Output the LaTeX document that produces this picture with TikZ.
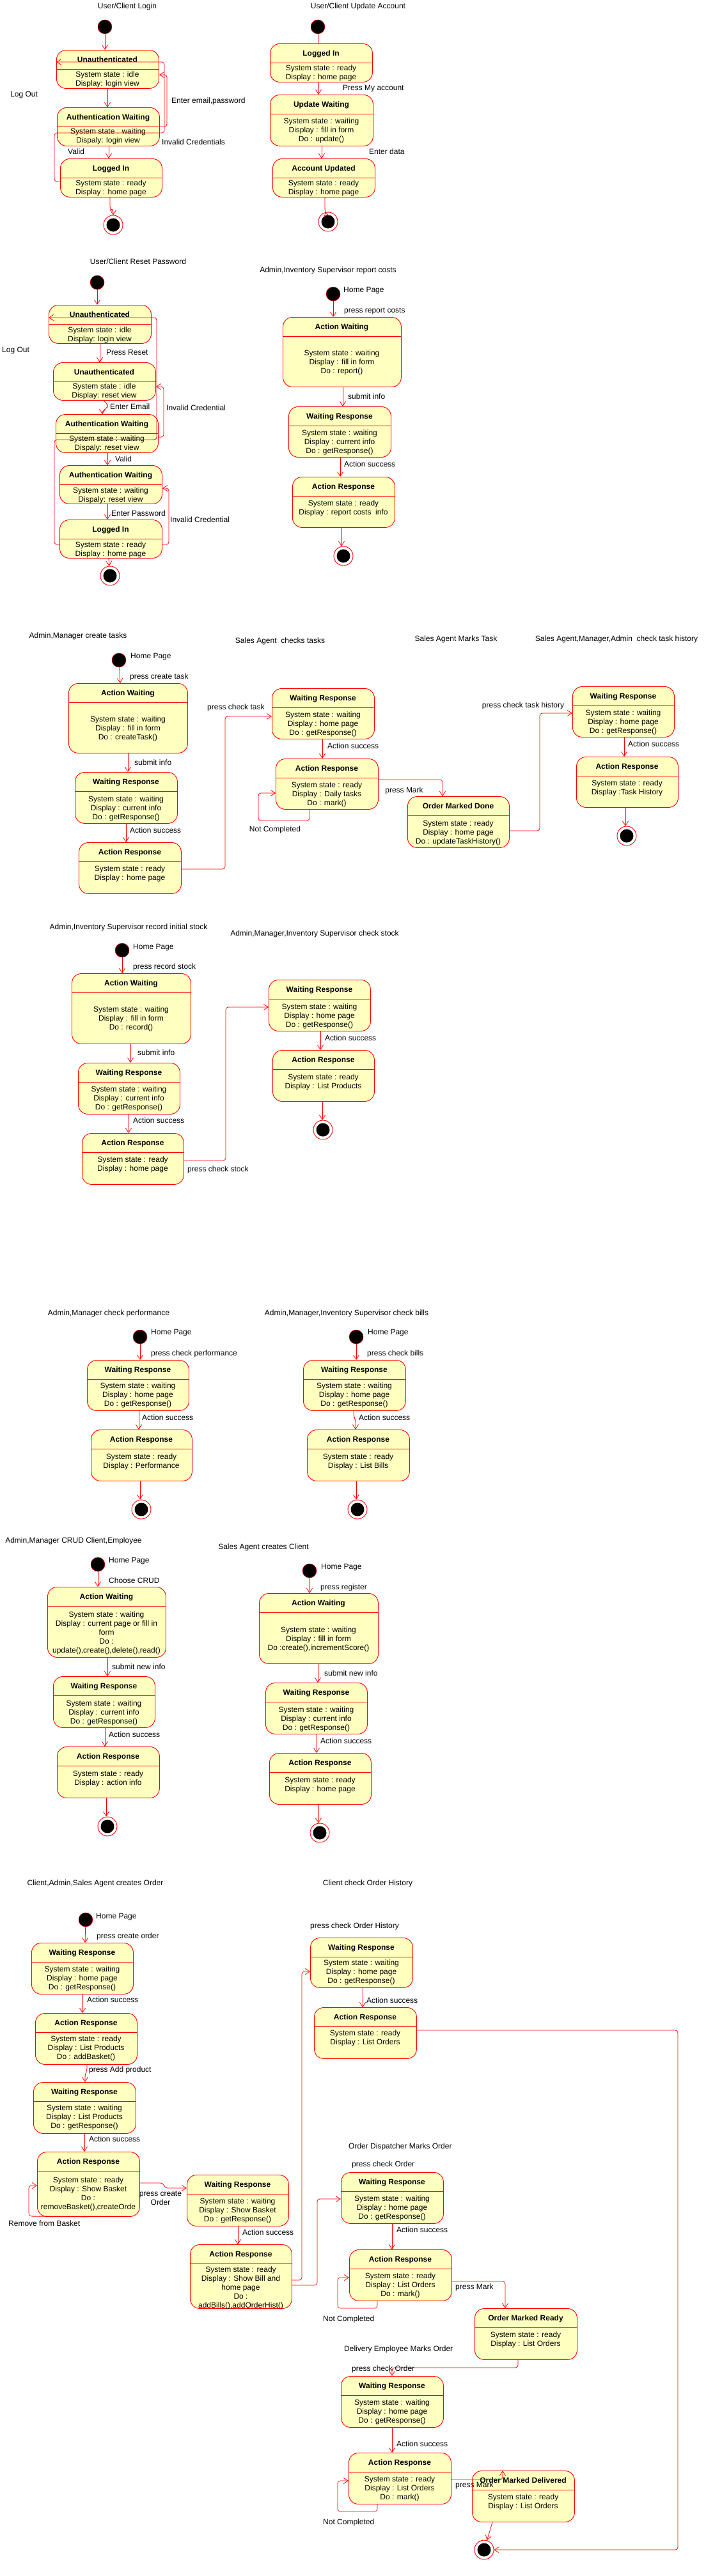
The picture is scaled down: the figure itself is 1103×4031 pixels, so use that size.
\documentclass[tikz,border=0pt]{standalone}
\usepackage{fontspec}
\setmainfont{Liberation Sans}
\usetikzlibrary{arrows.meta}

\definecolor{stateyellow}{HTML}{FFFFC0}
\definecolor{statered}{HTML}{FF0000}

\tikzset{
  statebox/.style={draw=statered, fill=stateyellow, rounded corners=15pt, inner sep=0pt, line width=0.9pt},
  sepline/.style={draw=statered, line width=0.9pt},
  titletext/.style={font=\fontsize{12}{14}\selectfont\bfseries, inner sep=0pt, anchor=base},
  bodytext/.style={font=\fontsize{12}{14}\selectfont, inner sep=0pt, anchor=base},
  tlabel/.style={font=\fontsize{12}{14}\selectfont, inner sep=0pt, anchor=base west},
  headline/.style={font=\fontsize{12}{14}\selectfont, inner sep=0pt, anchor=base},
  trans/.style={draw=statered, line width=0.8pt, rounded corners=4pt, -{Straight Barb[length=7pt,width=9pt]}},
  link/.style={draw=statered, line width=0.8pt},
  startstate/.style={circle, fill=black, draw=statered, line width=0.5pt, inner sep=0pt, minimum size=22pt},
  endstate/.style={circle, draw=statered, fill=white, line width=0.9pt, inner sep=0pt, minimum size=30pt,
    path picture={\fill[black] (path picture bounding box.center) circle (10.5pt);}},
}

% #1 name, #2,#3 top left, #4,#5 bottom right, #6 y of first body line, #7 title, #8 body
\newcommand{\ustate}[8]{%
  \node[statebox, anchor=north west, minimum width={#4-#2}, minimum height={#5-#3}] (#1) at (#2,#3) {};
  \draw[sepline] (#2,{#3+30}) -- (#4,{#3+30});
  \node[titletext] (#1-t) at ({(#2+#4)/2},{#3+19.5}) {#7};
  \node[bodytext] (#1-b) at ({(#2+#4)/2},{#6+4}) {\begin{tabular}[t]{@{}c@{}}#8\end{tabular}};
}

\begin{document}
\begin{tikzpicture}[x=1pt, y=-1pt]
  \useasboundingbox[fill=white] (0,0) rectangle (1103,4031);

  % User/Client Login
  \node[headline] (hLogin) at (199,13) {User/Client Login};
  \node[startstate] (loginStart) at (164,42) {};
  \ustate{loginUnauth}{88}{78}{248}{138}{116}{Unauthenticated}{System state : idle\\Display: login view}
  \ustate{loginWait}{89}{168}{249}{228}{205}{Authentication Waiting}{System state : waiting\\Dispaly: login view}
  \ustate{loginIn}{94}{248}{253}{308}{286}{Logged In}{System state : ready\\Display : home page}
  \node[endstate] (loginEnd) at (177,352) {};
  \draw[trans] (loginStart) -- (loginUnauth.north -| 164,0);
  \draw[trans] (loginUnauth.south -| 168,0) -- (loginWait.north -| 168,0);
  \draw[trans] (loginWait.south -| 170,0) -- (loginIn.north -| 170,0);
  \draw[trans] (loginIn.south -| 172,0) |- (177,328) -- (loginEnd.north);
  \draw[trans] (loginIn.west |- 0,284) -- (85,284) -- (85,208) -- (257,208) -- (257,97) -- (loginUnauth.west |- 0,97);
  \draw[trans] (loginWait.east |- 0,198) -- (261,198) -- (261,117) -- (loginUnauth.east |- 0,117);
  \node[tlabel] (loginL1) at (16,151) {Log Out};
  \node[tlabel] (loginL2) at (268,161) {Enter email,password};
  \node[tlabel] (loginL3) at (253,226) {Invalid Credentials};
  \node[tlabel] (loginL4) at (106,241) {Valid};

  % User/Client Update Account
  \node[headline] (hUpdate) at (560,13) {User/Client Update Account};
  \node[startstate] (updStart) at (497,42) {};
  \ustate{updIn}{422}{68}{582}{128}{106}{Logged In}{System state : ready\\Display : home page}
  \ustate{updWait}{422}{148}{583}{228}{189}{Update Waiting}{System state : waiting\\Display : fill in form\\Do : update()}
  \ustate{updDone}{426}{248}{586}{308}{286}{Account Updated}{System state : ready\\Display : home page}
  \node[endstate] (updEnd) at (513,347) {};
  \draw[link] (updStart) -- (updIn.north -| 497,0);
  \draw[trans] (updIn.south -| 498,0) -- (updWait.north -| 498,0);
  \draw[trans] (updWait.south -| 503,0) -- (updDone.north -| 503,0);
  \draw[trans] (updDone.south -| 508,0) -- (508,329) -- (updEnd);
  \node[tlabel] (updL1) at (536,141) {Press My account};
  \node[tlabel] (updL2) at (577,241) {Enter data};

  % User/Client Reset Password
  \node[headline] (hReset) at (216,413) {User/Client Reset Password};
  \node[startstate] (rstStart) at (152,442) {};
  \ustate{rstUnauth}{76}{477}{236}{537}{516}{Unauthenticated}{System state : idle\\Display: login view}
  \ustate{rstUnauthR}{83}{567}{243}{626}{604}{Unauthenticated}{System state : idle\\Display: reset view}
  \ustate{rstWait}{87}{648}{247}{708}{686}{Authentication Waiting}{System state : waiting\\Dispaly: reset view}
  \ustate{rstWaitP}{93}{728}{253}{788}{767}{Authentication Waiting}{System state : waiting\\Dispaly: reset view}
  \ustate{rstIn}{93}{813}{253}{873}{852}{Logged In}{System state : ready\\Display : home page}
  \node[endstate] (rstEnd) at (172,901) {};
  \draw[trans] (rstStart) -- (rstUnauth.north -| 152,0);
  \draw[trans] (rstUnauth.south -| 156,0) -- (rstUnauthR.north -| 156,0);
  \draw[trans] (rstUnauthR.south -| 162,0) -- (168,632) -- (168,638) -- (160,643) -- (rstWait.north -| 160,0);
  \draw[trans] (rstWait.south -| 168,0) -- (rstWaitP.north -| 168,0);
  \draw[trans] (rstWaitP.south -| 168,0) -- (rstIn.north -| 168,0);
  \draw[trans] (rstIn.south -| 170,0) -- (rstEnd);
  \draw[trans] (rstIn.west |- 0,852) -- (85,852) -- (85,688) -- (245,688) -- (245,497) -- (rstUnauth.west |- 0,497);
  \draw[trans] (rstWait.east |- 0,684) -- (256,684) -- (256,605) -- (rstUnauthR.east |- 0,605);
  \draw[trans] (rstIn.east |- 0,852) -- (264,852) -- (264,764) -- (rstWaitP.east |- 0,764);
  \node[tlabel] (rstL1) at (3,551) {Log Out};
  \node[tlabel] (rstL2) at (166,555) {Press Reset};
  \node[tlabel] (rstL3) at (172,640) {Enter Email};
  \node[tlabel] (rstL4) at (260,642) {Invalid Credential};
  \node[tlabel] (rstL5) at (180,722) {Valid};
  \node[tlabel] (rstL6) at (174,807) {Enter Password};
  \node[tlabel] (rstL7) at (266,817) {Invalid Credential};

  % Admin,Inventory Supervisor report costs
  \node[headline] (hReport) at (513,426) {Admin,Inventory Supervisor report costs};
  \node[startstate] (repStart) at (521,460) {};
  \ustate{repWait}{442}{496}{627}{605}{552}{Action Waiting}{System state : waiting\\Display : fill in form\\Do : report()}
  \ustate{repResp}{451}{636}{611}{715}{677}{Waiting Response}{System state : waiting\\Display : current info\\Do : getResponse()}
  \ustate{repAct}{457}{746}{617}{825}{787}{Action Response}{System state : ready\\Display : report costs \ info}
  \node[endstate] (repEnd) at (537,870) {};
  \draw[trans] (repStart) -- (repWait.north -| 521,0);
  \draw[trans] (repWait.south -| 536,0) -- (repResp.north -| 536,0);
  \draw[trans] (repResp.south -| 532,0) -- (repAct.north -| 532,0);
  \draw[trans] (repAct.south -| 534,0) -- (repEnd.north -| 534,0);
  \node[tlabel] (repL0) at (537,457) {Home Page};
  \node[tlabel] (repL1) at (538,489) {press report costs};
  \node[tlabel] (repL2) at (544,624) {submit info};
  \node[tlabel] (repL3) at (538,730) {Action success};

  % Admin,Manager create tasks
  \node[headline] (hTasks) at (122,998) {Admin,Manager create tasks};
  \node[startstate] (tskStart) at (186,1033) {};
  \ustate{tskWait}{107}{1069}{293}{1178}{1125}{Action Waiting}{System state : waiting\\Display : fill in form\\Do : createTask()}
  \ustate{tskResp}{117}{1208}{277}{1288}{1250}{Waiting Response}{System state : waiting\\Display : current info\\Do : getResponse()}
  \ustate{tskAct}{123}{1318}{283}{1398}{1359}{Action Response}{System state : ready\\Display : home page}
  \draw[trans] (tskStart) -- (tskWait.north -| 188,0);
  \draw[trans] (tskWait.south -| 200,0) -- (tskResp.north -| 200,0);
  \draw[trans] (tskResp.south -| 197,0) -- (tskAct.north -| 197,0);
  \node[tlabel] (tskL0) at (204,1030) {Home Page};
  \node[tlabel] (tskL1) at (203,1062) {press create task};
  \node[tlabel] (tskL2) at (210,1197) {submit info};
  \node[tlabel] (tskL3) at (203,1303) {Action success};

  % Sales Agent checks tasks
  \node[headline] (hCheck) at (438,1006) {Sales Agent\ \ checks tasks};
  \ustate{chkResp}{425}{1077}{585}{1156}{1118}{Waiting Response}{System state : waiting\\Display : home page\\Do : getResponse()}
  \ustate{chkAct}{431}{1187}{591}{1266}{1228}{Action Response}{System state : ready\\Display : Daily tasks\\Do : mark()}
  \draw[trans] (tskAct.east |- 0,1360) -- (352,1360) -- (352,1121) -- (chkResp.west |- 0,1121);
  \draw[trans] (chkResp.south -| 504,0) -- (chkAct.north -| 504,0);
  \draw[trans] (chkAct.south -| 484,0) -- (484,1284) -- (404,1284) -- (404,1241) -- (chkAct.west |- 0,1241);
  \node[tlabel] (chkL1) at (324,1110) {press check task};
  \node[tlabel] (chkL2) at (512,1171) {Action success};
  \node[headline] (chkL3) at (430,1301) {Not Completed};

  % Sales Agent Marks Task
  \node[headline] (hMark) at (713,1003) {Sales Agent Marks Task};
  \ustate{mrkDone}{637}{1246}{796}{1326}{1288}{Order Marked Done}{System state : ready\\Display : home page\\Do : updateTaskHistory()}
  \draw[trans] (chkAct.east |- 0,1220) -- (692,1220) -- (mrkDone.north -| 692,0);
  \node[headline] (mrkL1) at (632,1240) {press Mark};

  % Sales Agent,Manager,Admin check task history
  \node[headline] (hHistory) at (964,1003) {Sales Agent,Manager,Admin\ \ check task history};
  \ustate{hisResp}{895}{1074}{1054}{1153}{1115}{Waiting Response}{System state : waiting\\Display : home page\\Do : getResponse()}
  \ustate{hisAct}{901}{1184}{1060}{1263}{1225}{Action Response}{System state : ready\\Display :Task History}
  \node[endstate] (hisEnd) at (980,1308) {};
  \draw[trans] (mrkDone.east |- 0,1300) -- (844,1300) -- (844,1116) -- (hisResp.west |- 0,1116);
  \draw[trans] (hisResp.south -| 976,0) -- (hisAct.north -| 976,0);
  \draw[trans] (hisAct.south -| 978,0) -- (hisEnd.north -| 978,0);
  \node[headline] (hisL1) at (818,1107) {press check task history};
  \node[tlabel] (hisL2) at (982,1168) {Action success};

  % Admin,Inventory Supervisor record initial stock
  \node[headline] (hRecord) at (201,1454) {Admin,Inventory Supervisor record initial stock};
  \node[startstate] (recStart) at (191,1487) {};
  \ustate{recWait}{112}{1523}{298}{1633}{1579}{Action Waiting}{System state : waiting\\Display : fill in form\\Do : record()}
  \ustate{recResp}{122}{1663}{281}{1743}{1704}{Waiting Response}{System state : waiting\\Display : current info\\Do : getResponse()}
  \ustate{recAct}{128}{1773}{287}{1853}{1814}{Action Response}{System state : ready\\Display : home page}
  \draw[trans] (recStart) -- (recWait.north -| 191,0);
  \draw[trans] (recWait.south -| 204,0) -- (recResp.north -| 204,0);
  \draw[trans] (recResp.south -| 201,0) -- (recAct.north -| 201,0);
  \node[tlabel] (recL0) at (208,1485) {Home Page};
  \node[tlabel] (recL1) at (208,1516) {press record stock};
  \node[tlabel] (recL2) at (215,1651) {submit info};
  \node[tlabel] (recL3) at (208,1757) {Action success};

  % Admin,Manager,Inventory Supervisor check stock
  \node[headline] (hStock) at (492,1464) {Admin,Manager,Inventory Supervisor check stock};
  \ustate{stkResp}{420}{1533}{579}{1613}{1575}{Waiting Response}{System state : waiting\\Display : home page\\Do : getResponse()}
  \ustate{stkAct}{426}{1643}{585}{1723}{1685}{Action Response}{System state : ready\\Display : List Products}
  \node[endstate] (stkEnd) at (505,1768) {};
  \draw[trans] (recAct.east |- 0,1816) -- (353,1816) -- (353,1576) -- (stkResp.west |- 0,1576);
  \draw[trans] (stkResp.south -| 501,0) -- (stkAct.north -| 501,0);
  \draw[trans] (stkAct.south -| 504,0) -- (stkEnd.north -| 504,0);
  \node[tlabel] (stkL1) at (293,1833) {press check stock};
  \node[tlabel] (stkL2) at (508,1628) {Action success};

  % Admin,Manager check performance
  \node[headline] (hPerf) at (170,2058) {Admin,Manager check performance};
  \node[startstate] (prfStart) at (219,2092) {};
  \ustate{prfResp}{136}{2128}{295}{2207}{2168}{Waiting Response}{System state : waiting\\Display : home page\\Do : getResponse()}
  \ustate{prfAct}{142}{2237}{300}{2317}{2279}{Action Response}{System state : ready\\Display : Performance}
  \node[endstate] (prfEnd) at (221,2362) {};
  \draw[trans] (prfStart) -- (prfResp.north -| 219,0);
  \draw[trans] (prfResp.south -| 217,0) -- (prfAct.north -| 217,0);
  \draw[trans] (prfAct.south -| 219,0) -- (prfEnd.north -| 219,0);
  \node[tlabel] (prfL0) at (236,2088) {Home Page};
  \node[tlabel] (prfL1) at (236,2121) {press check performance};
  \node[tlabel] (prfL2) at (222,2222) {Action success};

  % Admin,Manager,Inventory Supervisor check bills
  \node[headline] (hBills) at (542,2058) {Admin,Manager,Inventory Supervisor check bills};
  \node[startstate] (bilStart) at (557,2092) {};
  \ustate{bilResp}{474}{2128}{634}{2207}{2168}{Waiting Response}{System state : waiting\\Display : home page\\Do : getResponse()}
  \ustate{bilAct}{480}{2237}{640}{2317}{2279}{Action Response}{System state : ready\\Display : List Bills}
  \node[endstate] (bilEnd) at (559,2362) {};
  \draw[trans] (bilStart) -- (bilResp.north -| 557,0);
  \draw[trans] (bilResp.south -| 553,0) -- (553,2216) -- (556,2222) -- (bilAct.north -| 556,0);
  \draw[trans] (bilAct.south -| 557,0) -- (bilEnd.north -| 557,0);
  \node[tlabel] (bilL0) at (575,2088) {Home Page};
  \node[tlabel] (bilL1) at (574,2121) {press check bills};
  \node[tlabel] (bilL2) at (561,2222) {Action success};

  % Admin,Manager CRUD Client,Employee
  \node[headline] (hCrud) at (115,2414) {Admin,Manager CRUD Client,Employee};
  \node[startstate] (crdStart) at (153,2448) {};
  \ustate{crdWait}{74}{2483}{259}{2593}{2526}{Action Waiting}{System state : waiting\\Display : current page or fill in\\form\\Do :\\update(),create(),delete(),read()}
  \ustate{crdResp}{83}{2623}{242}{2703}{2665}{Waiting Response}{System state : waiting\\Display : current info\\Do : getResponse()}
  \ustate{crdAct}{89}{2733}{249}{2813}{2775}{Action Response}{System state : ready\\Display : action info}
  \node[endstate] (crdEnd) at (168,2858) {};
  \draw[trans] (crdStart) -- (crdWait.north -| 153,0);
  \draw[trans] (crdWait.south -| 168,0) -- (crdResp.north -| 168,0);
  \draw[trans] (crdResp.south -| 164,0) -- (crdAct.north -| 164,0);
  \draw[trans] (crdAct.south -| 166,0) -- (crdEnd.north -| 166,0);
  \node[tlabel] (crdL0) at (170,2445) {Home Page};
  \node[tlabel] (crdL1) at (170,2477) {Choose CRUD};
  \node[tlabel] (crdL2) at (175,2612) {submit new info};
  \node[tlabel] (crdL3) at (170,2718) {Action success};

  % Sales Agent creates Client
  \node[headline] (hClient) at (412,2424) {Sales Agent creates Client};
  \node[startstate] (cliStart) at (484,2458) {};
  \ustate{cliWait}{405}{2493}{591}{2603}{2550}{Action Waiting}{System state : waiting\\Display : fill in form\\Do :create(),incrementScore()}
  \ustate{cliResp}{415}{2633}{574}{2713}{2675}{Waiting Response}{System state : waiting\\Display : current info\\Do : getResponse()}
  \ustate{cliAct}{421}{2743}{580}{2823}{2785}{Action Response}{System state : ready\\Display : home page}
  \node[endstate] (cliEnd) at (500,2868) {};
  \draw[trans] (cliStart) -- (cliWait.north -| 484,0);
  \draw[trans] (cliWait.south -| 497,0) -- (cliResp.north -| 497,0);
  \draw[trans] (cliResp.south -| 495,0) -- (cliAct.north -| 495,0);
  \draw[trans] (cliAct.south -| 498,0) -- (cliEnd.north -| 498,0);
  \node[tlabel] (cliL0) at (502,2455) {Home Page};
  \node[tlabel] (cliL1) at (501,2487) {press register};
  \node[tlabel] (cliL2) at (507,2622) {submit new info};
  \node[tlabel] (cliL3) at (501,2728) {Action success};

  % Client,Admin,Sales Agent creates Order
  \node[headline] (hOrder) at (149,2950) {Client,Admin,Sales Agent creates Order};
  \node[startstate] (ordStart) at (134,3004) {};
  \ustate{ordResp}{49}{3040}{208}{3120}{3081}{Waiting Response}{System state : waiting\\Display : home page\\Do : getResponse()}
  \ustate{ordAct}{55}{3150}{214}{3230}{3190}{Action Response}{System state : ready\\Display : List Products\\Do : addBasket()}
  \ustate{ordList}{52}{3258}{212}{3338}{3298}{Waiting Response}{System state : waiting\\Display : List Products\\Do : getResponse()}
  \ustate{ordBasket}{58}{3367}{218}{3468}{3411}{Action Response}{System state : ready\\Display : Show Basket\\Do :\\removeBasket(),createOrde}
  \ustate{ordShow}{292}{3403}{451}{3483}{3444}{Waiting Response}{System state : waiting\\Display : Show Basket\\Do : getResponse()}
  \ustate{ordBill}{297}{3512}{456}{3612}{3551}{Action Response}{System state : ready\\Display : Show Bill and\\home page\\Do :\\addBills(),addOrderHist()}
  \draw[trans] (ordStart) -- (ordResp.north -| 133,0);
  \draw[trans] (ordResp.south -| 129,0) -- (ordAct.north -| 129,0);
  \draw[trans] (ordAct.south -| 136,0) -- (136,3240) -- (133,3246) -- (ordList.north -| 133,0);
  \draw[trans] (ordList.south -| 132,0) -- (ordBasket.north -| 132,0);
  \draw[trans] (ordBasket.south -| 137,0) -- (45,3468) -- (45,3420) -- (ordBasket.west |- 0,3420);
  \draw[trans] (ordBasket.east |- 0,3416) -- (255,3416) -- (258,3424) -- (ordShow.west |- 0,3424);
  \draw[trans] (ordShow.south -| 372,0) -- (ordBill.north -| 372,0);
  \node[tlabel] (ordL0) at (150,3002) {Home Page};
  \node[tlabel] (ordL1) at (151,3033) {press create order};
  \node[tlabel] (ordL2) at (136,3133) {Action success};
  \node[tlabel] (ordL3) at (139,3242) {press Add product};
  \node[tlabel] (ordL4) at (139,3351) {Action success};
  \node[tlabel] (ordL5) at (13,3483) {Remove from Basket};
  \node[headline] (ordL6) at (251,3436) {\begin{tabular}[t]{@{}c@{}}press create\\Order\end{tabular}};
  \node[tlabel] (ordL7) at (379,3497) {Action success};

  % Client check Order History
  \node[headline] (hOrderHist) at (575,2950) {Client check Order History};
  \ustate{hstResp}{485}{3032}{645}{3110}{3071}{Waiting Response}{System state : waiting\\Display : home page\\Do : getResponse()}
  \ustate{hstAct}{491}{3141}{651}{3221}{3181}{Action Response}{System state : ready\\Display : List Orders}
  \draw[trans] (ordBill.east |- 0,3568) -- (472,3568) -- (472,3085) -- (hstResp.west |- 0,3085);
  \draw[trans] (hstResp.south -| 567,0) -- (hstAct.north -| 567,0);
  \node[tlabel] (hstL1) at (485,3017) {press check Order History};
  \node[tlabel] (hstL2) at (573,3134) {Action success};

  % Order Dispatcher Marks Order
  \node[tlabel] (hDispatch) at (545,3362) {Order Dispatcher Marks Order};
  \ustate{dspResp}{533}{3399}{693}{3479}{3440}{Waiting Response}{System state : waiting\\Display : home page\\Do : getResponse()}
  \ustate{dspAct}{546}{3520}{706}{3600}{3561}{Action Response}{System state : ready\\Display : List Orders\\Do : mark()}
  \ustate{dspReady}{742}{3612}{902}{3692}{3653}{Order Marked Ready}{System state : ready\\Display : List Orders}
  \draw[trans] (ordBill.east |- 0,3576) -- (496,3576) -- (496,3441) -- (dspResp.west |- 0,3441);
  \draw[trans] (dspResp.south -| 613,0) -- (dspAct.north -| 613,0);
  \draw[trans] (dspAct.south -| 590,0) -- (590,3612) -- (528,3612) -- (528,3564) -- (dspAct.west |- 0,3564);
  \draw[trans] (dspAct.east |- 0,3570) -- (790,3570) -- (dspReady.north -| 790,0);
  \node[tlabel] (dspL1) at (550,3390) {press check Order};
  \node[tlabel] (dspL2) at (620,3493) {Action success};
  \node[tlabel] (dspL3) at (505,3632) {Not Completed};
  \node[tlabel] (dspL4) at (712,3582) {press Mark};

  % Delivery Employee Marks Order
  \node[tlabel] (hDeliver) at (538,3679) {Delivery Employee Marks Order};
  \ustate{dlvResp}{533}{3718}{693}{3798}{3759}{Waiting Response}{System state : waiting\\Display : home page\\Do : getResponse()}
  \ustate{dlvAct}{545}{3838}{705}{3918}{3879}{Action Response}{System state : ready\\Display : List Orders\\Do : mark()}
  \ustate{dlvDone}{738}{3866}{898}{3946}{3907}{Order Marked Delivered}{System state : ready\\Display : List Orders}
  \node[endstate] (ordEnd) at (757,3990) {};
  \draw[trans] (dspReady.south -| 810,0) -- (810,3705) -- (613,3705) -- (dlvResp.north -| 613,0);
  \draw[trans] (dlvResp.south -| 613,0) -- (dlvAct.north -| 613,0);
  \draw[trans] (dlvAct.south -| 590,0) -- (590,3930) -- (528,3930) -- (528,3882) -- (dlvAct.west |- 0,3882);
  \draw[trans] (dlvAct.east |- 0,3880) -- (786,3880) -- (dlvDone.north -| 786,0);
  \draw[trans] (dlvDone.south -| 770,0) -- (ordEnd);
  \draw[trans] (hstAct.east |- 0,3177) -- (1060,3177) -- (1060,3990) -- (ordEnd.east);
  \node[tlabel] (dlvL1) at (550,3710) {press check Order};
  \node[tlabel] (dlvL2) at (620,3828) {Action success};
  \node[tlabel] (dlvL3) at (505,3950) {Not Completed};
  \node[tlabel] (dlvL4) at (712,3892) {press Mark};
\end{tikzpicture}
\end{document}
